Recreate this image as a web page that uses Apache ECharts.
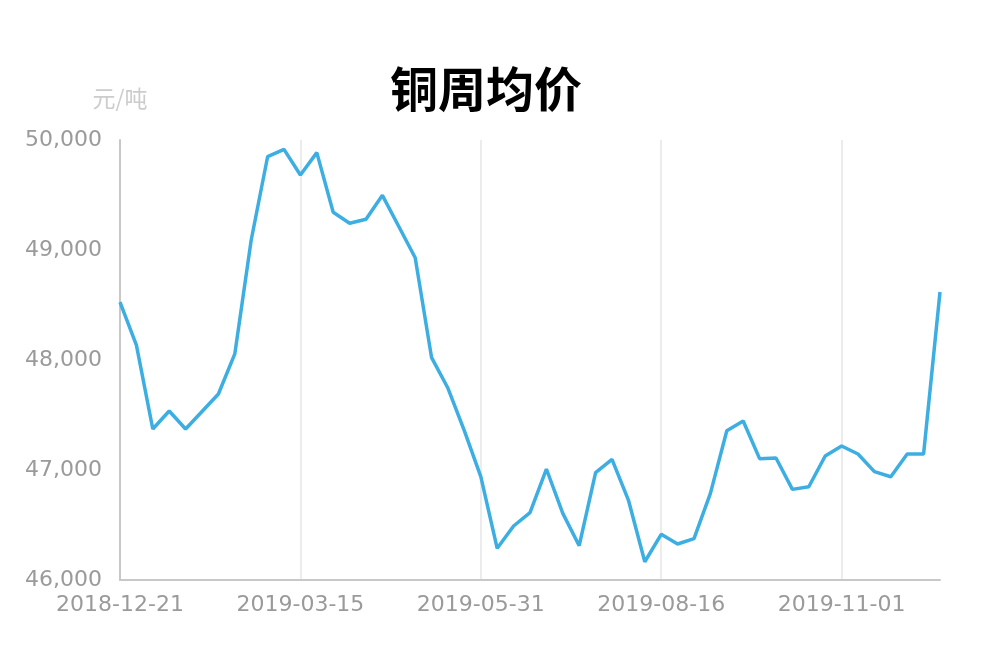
<!DOCTYPE html>
<html>
<head>
<meta charset="utf-8">
<script src="https://cdn.jsdelivr.net/npm/echarts@6/dist/echarts.min.js"></script>
<style>html,body{margin:0;padding:0;background:#fff}#c{width:1000px;height:660px}</style>
</head>
<body>
<div id="c"></div>
<script>
const dates = [
  '2018-12-21','2018-12-28','2019-01-04','2019-01-11','2019-01-18','2019-01-25','2019-02-01',
  '2019-02-15','2019-02-22','2019-03-01','2019-03-08','2019-03-15',
  '2019-03-22','2019-03-29','2019-04-05','2019-04-12','2019-04-19','2019-04-26','2019-05-03',
  '2019-05-10','2019-05-17','2019-05-24','2019-05-31',
  '2019-06-07','2019-06-14','2019-06-21','2019-06-28','2019-07-05','2019-07-12','2019-07-19',
  '2019-07-26','2019-08-02','2019-08-09','2019-08-16',
  '2019-08-23','2019-08-30','2019-09-06','2019-09-13','2019-09-20','2019-09-27','2019-10-04',
  '2019-10-11','2019-10-18','2019-10-25','2019-11-01',
  '2019-11-08','2019-11-15','2019-11-22','2019-11-29','2019-12-06','2019-12-13'
];
const copperPrice = [
  48527,48136,47373,47536,47373,47532,47691,48055,49091,49848,49915,49682,
  49885,49343,49243,49279,49497,49214,48930,48021,47743,47355,46939,
  46288,46491,46612,47009,46606,46312,46976,47097,46727,46166,46415,
  46327,46376,46788,47357,47445,47103,47109,46824,46848,47127,47218,
  47145,46985,46939,47145,47145,48618
];
const titleText = '铜周均价';
const unitText = '元/吨';

const chart = echarts.init(document.getElementById('c'));
chart.setOption({
  animation: false,
  title: {
    text: titleText,
    left: 385, top: 60,
    textStyle: { fontSize: 48, fontWeight: 'bold', color: '#000', fontFamily: 'Noto Sans CJK SC' }
  },
  grid: { left: 120, right: 60, top: 140, bottom: 80 },
  xAxis: {
    type: 'category',
    data: dates,
    boundaryGap: false,
    axisLine: { lineStyle: { color: '#c8c8c8', width: 2 } },
    axisTick: { show: false },
    axisLabel: { interval: 10, color: '#9a9a9a', fontSize: 22, margin: 14, fontFamily: 'DejaVu Sans' },
    splitLine: { show: true, interval: 10, lineStyle: { color: '#e6e6e6', width: 1.5 } }
  },
  yAxis: {
    type: 'value',
    min: 46000, max: 50000, interval: 1000,
    name: unitText,
    nameLocation: 'end',
    nameGap: 30,
    nameTextStyle: { color: '#cccccc', fontSize: 23, fontFamily: 'Noto Sans CJK SC' },
    axisLine: { show: true, lineStyle: { color: '#c8c8c8', width: 2 } },
    axisTick: { show: false },
    splitLine: { show: false },
    axisLabel: {
      color: '#9a9a9a', fontSize: 22, margin: 18, fontFamily: 'DejaVu Sans',
      formatter: v => v.toLocaleString('en-US')
    }
  },
  series: [{
    type: 'line',
    data: copperPrice,
    showSymbol: false,
    lineStyle: { color: '#3daee2', width: 3.5 },
    itemStyle: { color: '#3daee2' }
  }]
});
</script>
</body>
</html>
